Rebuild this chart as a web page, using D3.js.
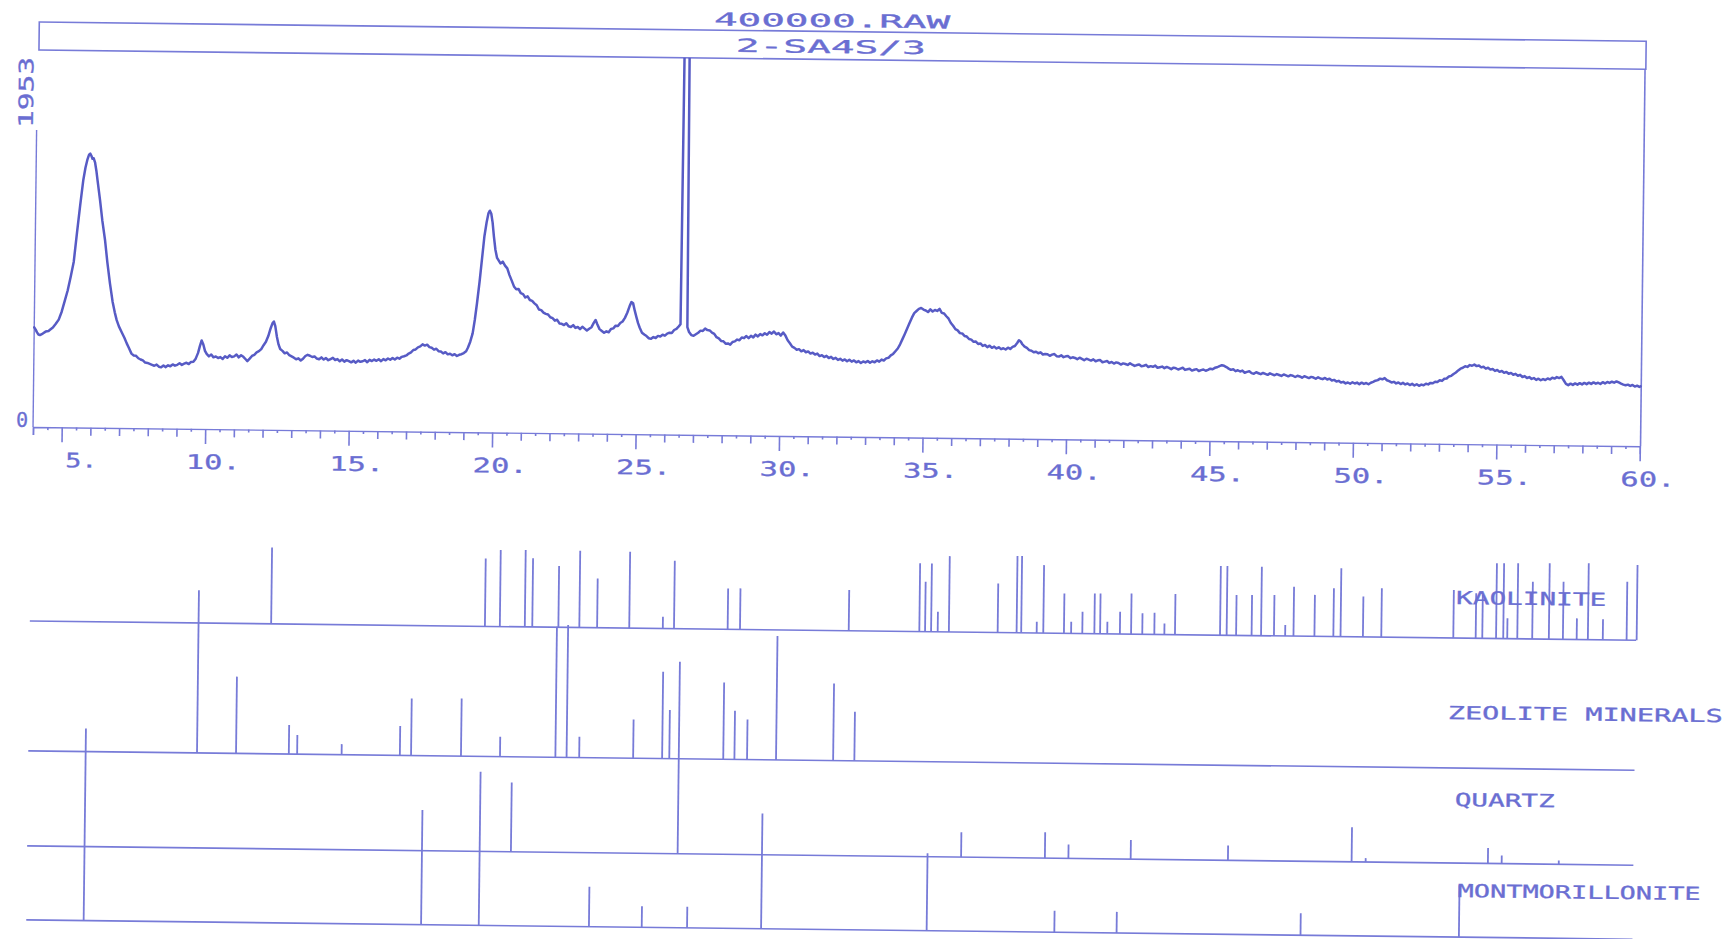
<!DOCTYPE html>
<html>
<head>
<meta charset="utf-8">
<script src="https://cdn.jsdelivr.net/npm/d3@7"></script>
<style>
  html, body { margin: 0; padding: 0; background: #ffffff; }
  svg { display: block; }
</style>
</head>
<body>
<svg id="chart" width="1728" height="939"></svg>
<script>
// ---------------- data ----------------
const scanTitle = "400000.RAW";
const sampleTitle = "2-SA4S/3";
const yAxisMax = 1953;
const yAxisMin = 0;
const xDomain = [4, 60];
const xTickValues = [5, 10, 15, 20, 25, 30, 35, 40, 45, 50, 55, 60];
const xTickLabels = ["5.", "10.", "15.", "20.", "25.", "30.", "35.", "40.", "45.", "50.", "55.", "60."];

// diffractogram: [2-theta, counts]
const scan = [
[4.00,655],[4.05,640],[4.10,622],[4.15,608],[4.20,605],[4.30,615],[4.40,628],[4.50,632],[4.55,640],[4.65,655],[4.75,680],[4.85,708],[4.95,760],[5.05,830],[5.15,900],[5.25,990],[5.35,1090],[5.45,1280],[5.55,1460],[5.65,1630],[5.72,1710],[5.78,1760],[5.84,1795],[5.88,1802],[5.92,1788],[5.96,1768],[6.00,1772],[6.05,1745],[6.10,1690],[6.15,1620],[6.24,1497],[6.33,1360],[6.43,1235],[6.52,1090],[6.62,950],[6.72,830],[6.80,760],[6.87,709],[6.95,668],[7.05,630],[7.15,592],[7.23,557],[7.30,530],
[7.40,490],[7.48,478],[7.56,476],[7.64,460],[7.72,452],[7.80,446],[7.88,432],[7.96,430],[8.04,424],[8.12,418],[8.20,412],[8.28,420],[8.36,406],[8.44,402],[8.52,414],[8.60,404],[8.68,416],[8.76,410],[8.84,422],[8.92,414],[9.00,420],[9.08,430],[9.16,420],[9.24,428],[9.32,434],[9.40,426],[9.48,440],[9.56,442],[9.64,462],[9.72,500],[9.78,545],[9.84,582],[9.90,556],[9.96,514],[10.02,494],[10.10,478],[10.18,490],[10.26,472],[10.34,478],[10.42,468],[10.50,474],[10.58,462],[10.66,480],[10.74,470],[10.82,486],[10.90,476],[10.98,480],[11.06,492],[11.14,474],[11.22,488],[11.30,478],[11.38,462],[11.44,450],[11.52,466],[11.60,484],[11.68,492],[11.76,508],[11.84,516],[11.92,530],[12.00,556],[12.08,578],[12.16,616],[12.24,668],[12.30,700],[12.35,712],[12.40,682],[12.46,612],[12.52,562],[12.58,532],[12.66,520],[12.74,504],[12.82,510],[12.90,492],[12.98,484],[13.06,476],[13.14,466],[13.22,472],[13.30,458],[13.38,470],[13.46,488],[13.54,496],[13.62,490],[13.70,482],[13.78,486],[13.86,472],[13.94,468],[14.02,480],[14.10,466],[14.18,476],[14.26,462],[14.34,470],[14.42,478],[14.50,464],[14.58,470],[14.66,456],[14.74,468],[14.82,454],[14.90,464],[14.98,458],[15.06,450],[15.14,460],[15.22,448],[15.30,462],[15.38,454],[15.46,458],[15.54,466],[15.62,452],[15.70,468],[15.78,460],[15.86,470],[15.94,462],[16.02,472],[16.10,460],[16.18,474],[16.26,466],[16.34,478],[16.42,470],[16.50,482],[16.58,472],[16.66,484],[16.74,478],[16.82,490],[16.90,494],[16.98,500],[17.06,512],[17.14,520],[17.22,536],[17.30,540],[17.38,554],[17.46,560],[17.54,574],[17.62,566],[17.70,572],[17.78,556],[17.86,552],[17.94,540],[18.02,546],[18.10,530],[18.18,528],[18.26,516],[18.34,524],[18.42,510],[18.50,514],[18.58,504],[18.66,512],[18.74,500],[18.82,508],[18.90,512],[18.98,520],[19.06,532],[19.12,555],[19.20,595],[19.28,650],[19.35,740],[19.42,850],[19.50,990],[19.58,1150],[19.65,1290],[19.72,1380],[19.78,1440],[19.83,1458],[19.88,1438],[19.93,1380],[19.98,1290],[20.04,1200],[20.10,1148],[20.16,1130],[20.22,1112],[20.30,1124],[20.38,1098],[20.46,1080],[20.54,1036],[20.62,1000],[20.70,962],[20.78,944],[20.86,946],[20.94,918],[21.02,912],[21.10,890],[21.18,898],[21.26,874],[21.34,868],[21.42,852],[21.50,840],[21.58,812],[21.66,808],[21.74,792],[21.82,784],[21.90,780],[21.98,762],[22.06,756],[22.14,740],[22.22,746],[22.30,722],[22.38,720],[22.46,712],[22.54,724],[22.62,704],[22.70,700],[22.78,712],[22.86,694],[22.94,700],[23.02,686],[23.10,702],[23.18,690],[23.26,678],[23.34,690],[23.42,700],[23.50,730],[23.56,748],[23.62,720],[23.70,688],[23.78,676],[23.86,664],[23.94,674],[24.02,668],[24.10,690],[24.18,694],[24.26,712],[24.34,710],[24.42,730],[24.50,740],[24.58,764],[24.66,798],[24.74,842],[24.80,868],[24.86,860],[24.92,812],[24.98,770],[25.04,730],[25.10,700],[25.18,668],[25.26,656],[25.34,646],[25.42,632],[25.50,628],[25.58,640],[25.66,634],[25.74,648],[25.82,644],[25.90,656],[25.98,650],[26.06,664],[26.14,670],[26.22,668],[26.30,688],[26.38,696],[26.46,712],[26.52,726],[26.57,3800],[26.70,3800],[26.76,708],[26.82,676],[26.90,656],[26.98,652],[27.06,662],[27.14,672],[27.22,686],[27.30,684],[27.38,700],[27.46,690],[27.54,688],[27.62,674],[27.70,666],[27.78,644],[27.86,636],[27.94,620],[28.02,618],[28.10,602],[28.18,604],[28.26,596],[28.34,614],[28.42,618],[28.50,630],[28.58,626],[28.66,644],[28.74,640],[28.82,654],[28.90,640],[28.98,656],[29.06,646],[29.14,664],[29.22,652],[29.30,668],[29.38,660],[29.46,674],[29.54,664],[29.62,682],[29.70,672],[29.78,686],[29.86,668],[29.94,676],[30.02,660],[30.10,680],[30.18,660],[30.26,630],[30.34,610],[30.42,588],[30.50,580],[30.58,568],[30.66,572],[30.74,558],[30.82,566],[30.90,552],[30.98,558],[31.06,544],[31.14,550],[31.22,538],[31.30,544],[31.38,528],[31.46,534],[31.54,522],[31.62,530],[31.70,516],[31.78,524],[31.86,510],[31.94,518],[32.02,504],[32.10,512],[32.18,500],[32.26,508],[32.34,496],[32.42,506],[32.50,494],[32.58,502],[32.66,490],[32.74,498],[32.82,486],[32.90,496],[32.98,490],[33.06,500],[33.14,488],[33.22,498],[33.30,492],[33.38,504],[33.46,496],[33.54,510],[33.62,504],[33.70,518],[33.78,522],[33.86,538],[33.94,548],[34.02,566],[34.10,584],[34.18,612],[34.26,646],[34.34,680],[34.42,716],[34.50,752],[34.58,788],[34.66,818],[34.74,832],[34.82,846],[34.90,852],[34.98,842],[35.06,836],[35.14,826],[35.22,844],[35.30,830],[35.38,840],[35.46,834],[35.54,848],[35.62,822],[35.70,818],[35.78,800],[35.86,784],[35.94,756],[36.02,738],[36.10,716],[36.18,708],[36.26,690],[36.34,688],[36.42,672],[36.50,668],[36.58,652],[36.66,648],[36.74,634],[36.82,636],[36.90,620],[36.98,624],[37.06,608],[37.14,614],[37.22,600],[37.30,610],[37.38,596],[37.46,604],[37.54,592],[37.62,600],[37.70,588],[37.78,594],[37.86,586],[37.94,598],[38.02,590],[38.10,604],[38.18,610],[38.26,630],[38.32,648],[38.38,640],[38.44,622],[38.52,606],[38.60,598],[38.68,584],[38.76,580],[38.84,570],[38.92,574],
[39.00,564],[39.08,570],[39.16,556],[39.24,560],[39.32,558],[39.40,548],[39.48,556],[39.56,560],[39.64,546],[39.72,544],[39.80,552],[39.88,540],[39.96,546],[40.04,548],[40.12,534],[40.20,540],[40.28,536],[40.36,528],[40.44,538],[40.52,530],[40.60,522],[40.68,532],[40.76,526],[40.84,520],[40.92,528],[41.00,516],[41.08,522],[41.16,524],[41.24,510],[41.32,514],[41.40,518],[41.48,506],[41.56,512],[41.64,502],[41.72,510],[41.80,506],[41.88,496],[41.96,504],[42.04,500],[42.12,494],[42.20,506],[42.28,496],[42.36,488],[42.44,494],[42.52,498],[42.60,486],[42.68,490],[42.76,496],[42.84,482],[42.92,488],[43.00,484],[43.08,492],[43.16,478],[43.24,482],[43.32,486],[43.40,476],[43.48,484],[43.56,478],[43.64,470],[43.72,480],[43.80,476],[43.88,468],[43.96,474],[44.04,480],[44.12,466],[44.20,470],[44.28,474],[44.36,462],[44.44,468],[44.52,472],[44.60,460],[44.68,466],[44.76,470],[44.84,462],[44.92,468],[45.00,476],[45.08,472],[45.16,482],[45.24,486],[45.32,494],[45.40,500],[45.48,496],[45.56,488],[45.64,478],[45.72,470],[45.80,474],[45.88,462],[45.96,468],
[46.04,460],[46.12,466],[46.20,452],[46.28,458],[46.36,462],[46.44,450],[46.52,446],[46.60,456],[46.68,450],[46.76,444],[46.84,452],[46.92,446],[47.00,440],[47.08,450],[47.16,444],[47.24,438],[47.32,446],[47.40,440],[47.48,434],[47.56,444],[47.64,438],[47.72,432],[47.80,440],[47.88,436],[47.96,428],[48.04,436],[48.12,432],[48.20,424],[48.28,434],[48.36,428],[48.44,422],[48.52,430],[48.60,426],[48.68,418],[48.76,428],[48.84,420],[48.92,416],[49.00,424],[49.08,414],[49.16,420],[49.24,408],[49.32,412],[49.40,402],[49.48,406],[49.56,396],[49.64,400],[49.72,390],[49.80,396],[49.88,388],[49.96,398],[50.04,390],[50.12,396],[50.20,386],[50.28,396],[50.36,388],[50.44,394],[50.52,386],[50.60,396],[50.68,402],[50.76,410],[50.84,414],[50.92,424],[51.00,420],[51.08,428],[51.16,414],[51.24,408],[51.32,400],[51.40,404],[51.48,394],[51.56,400],[51.64,390],[51.72,398],[51.80,388],[51.88,394],[51.96,384],[52.04,392],[52.12,382],[52.20,390],[52.28,380],[52.36,388],[52.44,384],[52.52,394],[52.60,390],[52.68,400],[52.76,398],[52.84,408],[52.92,406],[53.00,418],[53.08,414],[53.16,428],[53.24,430],[53.32,444],[53.40,448],[53.48,460],[53.56,470],[53.64,484],[53.72,496],[53.80,502],[53.88,512],[53.96,508],[54.04,520],[54.12,516],[54.20,524],[54.28,514],[54.36,518],[54.44,506],[54.52,510],[54.60,498],[54.68,504],[54.76,492],[54.84,496],[54.92,484],[55.00,490],[55.08,478],[55.16,484],[55.24,472],[55.32,478],[55.40,466],[55.48,472],[55.56,460],[55.64,466],[55.72,454],[55.80,460],[55.88,446],[55.96,452],[56.04,440],[56.12,446],[56.20,434],[56.28,440],[56.36,428],[56.44,436],[56.52,426],[56.60,434],[56.68,428],[56.76,438],[56.84,432],[56.92,444],[57.00,438],[57.08,448],[57.16,442],[57.24,450],[57.32,428],[57.40,404],[57.48,396],[57.56,406],[57.64,398],[57.72,408],[57.80,400],[57.88,410],[57.96,402],[58.04,412],[58.12,404],[58.20,414],[58.28,406],[58.36,416],[58.44,408],[58.52,414],[58.60,406],[58.68,418],[58.76,410],[58.84,420],[58.92,414],[59.00,422],[59.08,416],[59.16,424],[59.24,418],[59.32,410],[59.40,404],[59.48,400],[59.56,404],[59.64,396],[59.72,402],[59.80,392],[59.88,398],[59.96,390],[60.00,394]
];

// reference stick patterns (2-theta, relative intensity 0-100)
const phaseNames = ["KAOLINITE", "ZEOLITE MINERALS", "QUARTZ", "MONTMORILLONITE"];
const stickSpan = [3.97, 59.95];

const kaoliniteAngles = [12.38,19.83,20.35,21.22,21.48,22.39,23.12,23.74,24.86,26.03,26.42,28.29,28.72,32.51,34.97,35.17,35.38,35.61,36.00,37.70,38.36,38.52,39.06,39.29,40.01,40.26,40.65,41.07,41.27,41.52,41.96,42.35,42.74,43.16,43.51,43.88,45.45,45.68,46.01,46.55,46.88,47.33,47.72,48.01,48.74,49.40,49.65,50.43,51.07,53.58,54.36,54.59,55.07,55.32,55.46,55.81,56.33,56.91,57.40,57.88,58.27,58.79,59.62,59.97];
const kaoliniteInt    = [39.8,35.4,39.9,40.0,35.8,31.9,40.0,25.7,39.8,6.1,35.4,21.3,21.4,21.2,35.6,26.0,35.6,10.5,39.5,25.6,40.0,40.0,5.9,35.4,20.8,6.1,11.4,21.0,21.0,6.3,11.6,21.2,10.9,11.3,5.8,21.2,36.0,36.1,21.0,21.1,35.9,21.3,5.7,25.7,21.6,25.2,35.6,21.0,25.5,25.0,23.4,22.6,39.2,39.2,10.6,39.3,29.8,39.5,30.0,11.0,39.8,10.7,30.4,39.2];

const zeoliteAngles = [9.85,11.21,13.05,13.34,14.89,16.92,17.31,19.05,20.41,22.34,22.73,23.17,25.05,26.06,26.31,28.19,28.58,29.02,30.03,32.02,32.76];
const zeoliteInt    = [84.8,40.0,15.1,10.0,5.5,15.3,29.7,30.0,10.3,68.0,68.9,10.8,20.2,45.2,25.3,40.0,25.3,20.9,64.5,40.2,25.6];

const quartzAngles = [20.83,26.64,36.52,39.44,40.26,42.43,45.82,50.13,50.62,54.88,55.36,57.35];
const quartzInt    = [36.0,100.0,13.0,13.5,7.2,10.0,7.7,18.0,2.0,8.1,4.2,2.0];

const montAngles = [5.97,17.73,19.74,23.58,25.42,27.00,29.58,35.35,39.80,41.97,48.38,53.90];
const montInt    = [100.0,59.7,80.0,20.8,11.0,11.0,60.0,40.3,11.2,11.0,11.4,27.0];

// ---------------- drawing ----------------
const ink = "#575bc5";
const lineInk = "#777bd8";
const textInk = "#6a6ed2";
const mono = "'DejaVu Sans Mono', 'Liberation Mono', monospace";

const svg = d3.select("#chart");
svg.append("rect").attr("width", 1728).attr("height", 939).attr("fill", "#ffffff");

// the scanned sheet is slightly rotated
const g = svg.append("g").attr("transform", "rotate(0.6875,39.3,21.7)");

const x = d3.scaleLinear().domain(xDomain).range([37.9, 1644.8]);
const y = d3.scaleLinear().domain([yAxisMin, yAxisMax]).range([427, 130]);
const stickH = d3.scaleLinear().domain([0, 100]).range([0, 192]);

const plotTop = 50, boxTop = 22, boxLeft = 39.3, boxRight = 1646.3;

// title box
g.append("rect")
  .attr("x", boxLeft).attr("y", boxTop)
  .attr("width", boxRight - boxLeft).attr("height", plotTop - boxTop)
  .attr("fill", "none").attr("stroke", lineInk).attr("stroke-width", 1.6);

// right frame edge
g.append("line")
  .attr("x1", 1645.5).attr("x2", 1645.5).attr("y1", plotTop).attr("y2", y(0))
  .attr("stroke", lineInk).attr("stroke-width", 1.6);

function stretchedText(sel, str, xPos, yPos, len, size, anchor) {
  return sel.append("text")
    .attr("x", xPos).attr("y", yPos)
    .attr("text-anchor", anchor || "start")
    .attr("font-family", mono).attr("font-size", size)
    .attr("fill", textInk).attr("stroke", textInk).attr("stroke-width", 0.3)
    .attr("textLength", len).attr("lengthAdjust", "spacingAndGlyphs")
    .text(str);
}
// titles
stretchedText(g, scanTitle, 832 - 118, 17.5, 236, 18);
stretchedText(g, sampleTitle, 831 - 95, 43.5, 190, 18);

// y axis
g.append("line")
  .attr("x1", x(xDomain[0])).attr("x2", x(xDomain[0]))
  .attr("y1", y(0)).attr("y2", y(yAxisMax))
  .attr("stroke", lineInk).attr("stroke-width", 1.4);
g.append("text")
  .attr("x", 33).attr("y", y(0))
  .attr("text-anchor", "end")
  .attr("font-family", mono).attr("font-size", 20)
  .attr("fill", textInk).attr("stroke", textInk).attr("stroke-width", 0.3)
  .text(String(yAxisMin));
g.append("text")
  .attr("transform", `translate(34,${y(yAxisMax) - 2}) rotate(-90)`)
  .attr("font-family", mono).attr("font-size", 20)
  .attr("fill", textInk).attr("stroke", textInk).attr("stroke-width", 0.3)
  .attr("textLength", 71).attr("lengthAdjust", "spacingAndGlyphs")
  .text(String(yAxisMax));

// x axis with half-degree ticks
const halfTicks = d3.range(xDomain[0] * 2, xDomain[1] * 2 + 1).map(i => i / 2);
const axis = d3.axisBottom(x).tickValues(halfTicks).tickSizeOuter(0).tickSize(8).tickFormat(() => "");
const ax = g.append("g").attr("transform", `translate(0,${y(0)})`).call(axis);
ax.select(".domain").attr("stroke", lineInk).attr("stroke-width", 1.4);
ax.selectAll(".tick line")
  .attr("stroke", lineInk).attr("stroke-width", 1.6)
  .attr("y2", d => (d % 5 === 0 ? 15 : (d % 1 === 0 ? 8 : 3)));

// x tick labels (right-aligned just past each major tick)
xTickValues.forEach((v, i) => {
  const lab = xTickLabels[i];
  const len = (lab.length - 1) * 23 + 9;
  stretchedText(g, lab, x(v) + 36 - len, 467, len, 20);
});

// diffractogram
g.append("clipPath").attr("id", "plotClip")
  .append("rect").attr("x", 30).attr("y", plotTop).attr("width", 1620).attr("height", y(0) - plotTop);
g.append("path")
  .datum(scan)
  .attr("clip-path", "url(#plotClip)")
  .attr("fill", "none")
  .attr("stroke", ink).attr("stroke-width", 2.5)
  .attr("stroke-linejoin", "round").attr("stroke-linecap", "round")
  .attr("d", d3.line().x(d => x(d[0])).y(d => y(d[1])));

// stick patterns
const phases = [
  { name: phaseNames[0], angles: kaoliniteAngles, ints: kaoliniteInt, base: 621, label: [1463, 587, 150] },
  { name: phaseNames[1], angles: zeoliteAngles,   ints: zeoliteInt,   base: 751, label: [1456, 702, 275] },
  { name: phaseNames[2], angles: quartzAngles,    ints: quartzInt,    base: 846, label: [1464, 789, 100] },
  { name: phaseNames[3], angles: montAngles,      ints: montInt,      base: 920, label: [1468, 880, 243] }
];

phases.forEach(p => {
  const pg = g.append("g");
  pg.append("line")
    .attr("x1", x(stickSpan[0])).attr("x2", x(stickSpan[1]))
    .attr("y1", p.base).attr("y2", p.base)
    .attr("stroke", lineInk).attr("stroke-width", 1.6);
  pg.selectAll("line.stick")
    .data(p.angles.map((a, i) => [a, p.ints[i]]))
    .join("line").attr("class", "stick")
    .attr("x1", d => x(d[0])).attr("x2", d => x(d[0]))
    .attr("y1", p.base).attr("y2", d => p.base - stickH(d[1]))
    .attr("stroke", lineInk).attr("stroke-width", 1.8);
  stretchedText(pg, p.name, p.label[0], p.label[1], p.label[2], 18);
});
</script>
</body>
</html>
